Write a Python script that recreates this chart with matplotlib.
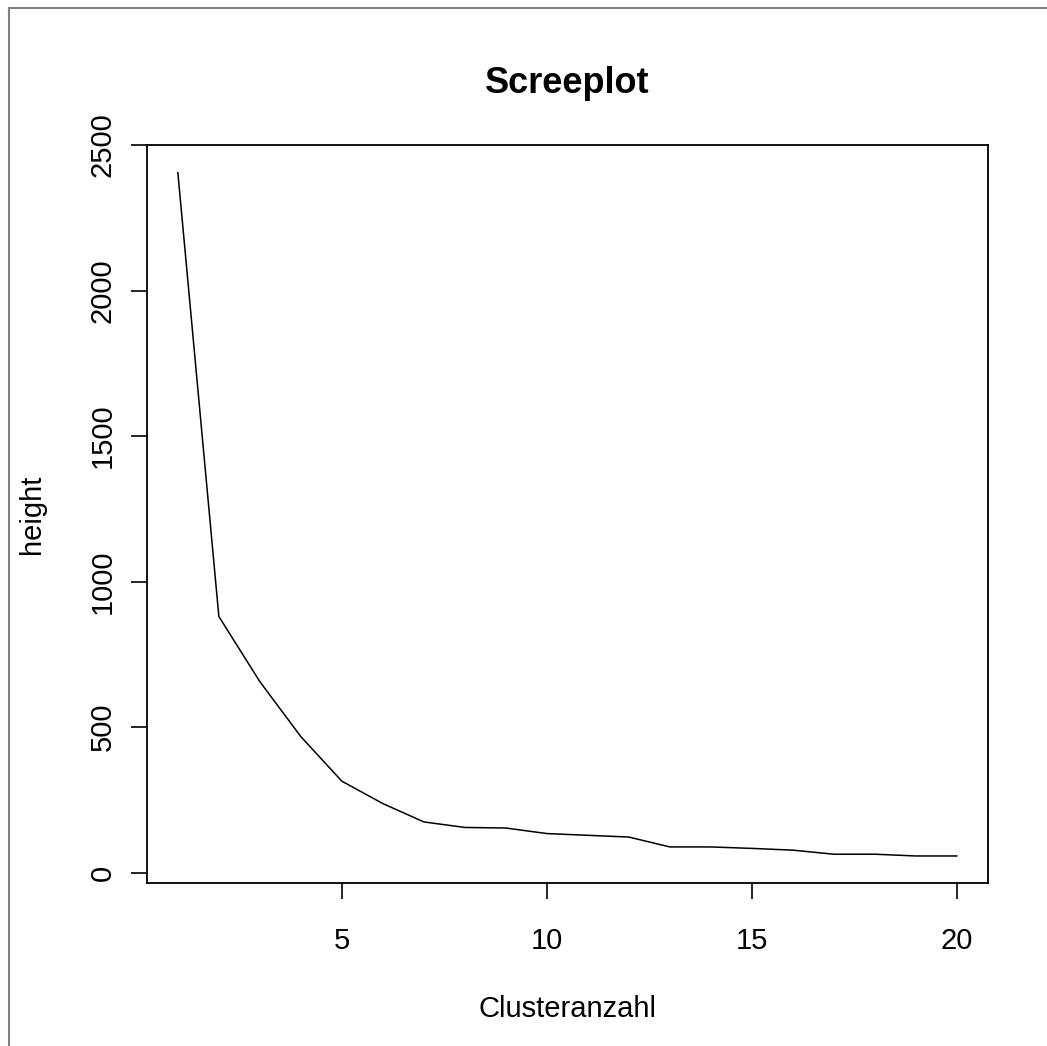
import matplotlib
matplotlib.use('Agg')
import matplotlib.pyplot as plt
from matplotlib.lines import Line2D

# Screeplot data (cluster count vs. merge height)
clusters = list(range(1, 21))
heights = [2405, 880, 656, 467, 314, 237, 174, 155, 153, 134,
           128, 122, 88, 88, 83, 77, 63, 63, 57, 57]
x_ticks = [5, 10, 15, 20]
y_ticks = [0, 500, 1000, 1500, 2000, 2500]

plt.rcParams['font.family'] = ['Liberation Sans', 'DejaVu Sans']

W, H = 1047, 1046
fig = plt.figure(figsize=(W / 100, H / 100), dpi=100)
ax = fig.add_axes([146.7 / W, 1 - 883.3 / H, (988 - 146.7) / W, (883.3 - 145) / H])

ax.plot(clusters, heights, color='black', linewidth=1.1)

# R style 4% expansion of the data range
xr = max(clusters) - min(clusters)
yr = max(heights) - min(heights)
ax.set_xlim(min(clusters) - 0.04 * xr, max(clusters) + 0.04 * xr)
ax.set_ylim(min(heights) - 0.04 * yr, max(heights) + 0.04 * yr)

ax.set_xticks(x_ticks)
ax.set_yticks(y_ticks)
ax.set_yticklabels([str(v) for v in y_ticks], rotation=90, va='center')
ax.tick_params(axis='both', direction='out', length=11.5, width=1.2,
               labelsize=21, colors='black')
ax.tick_params(axis='x', pad=20)
ax.tick_params(axis='y', pad=10)
for s in ax.spines.values():
    s.set_linewidth(1.3)
    s.set_color('black')

ax.set_xlabel('Clusteranzahl', fontsize=21)
ax.set_ylabel('height', fontsize=21)
ax.xaxis.set_label_coords(0.5, -0.1513)
ax.yaxis.set_label_coords(-0.1195, 0.5)

fig.text(0.5 * (146.7 + 988) / W, 1 - 93 / H, 'Screeplot', fontsize=26,
         fontweight='bold', ha='center', va='baseline')

# grey frame on the top and left edges
fig.add_artist(Line2D([8.7 / W, 8.7 / W], [0, 1 - 7.7 / H], transform=fig.transFigure,
                      color='#808080', linewidth=1.5))
fig.add_artist(Line2D([8.7 / W, 1], [1 - 7.7 / H, 1 - 7.7 / H], transform=fig.transFigure,
                      color='#808080', linewidth=1.5))

fig.savefig('out.png', dpi=100)
